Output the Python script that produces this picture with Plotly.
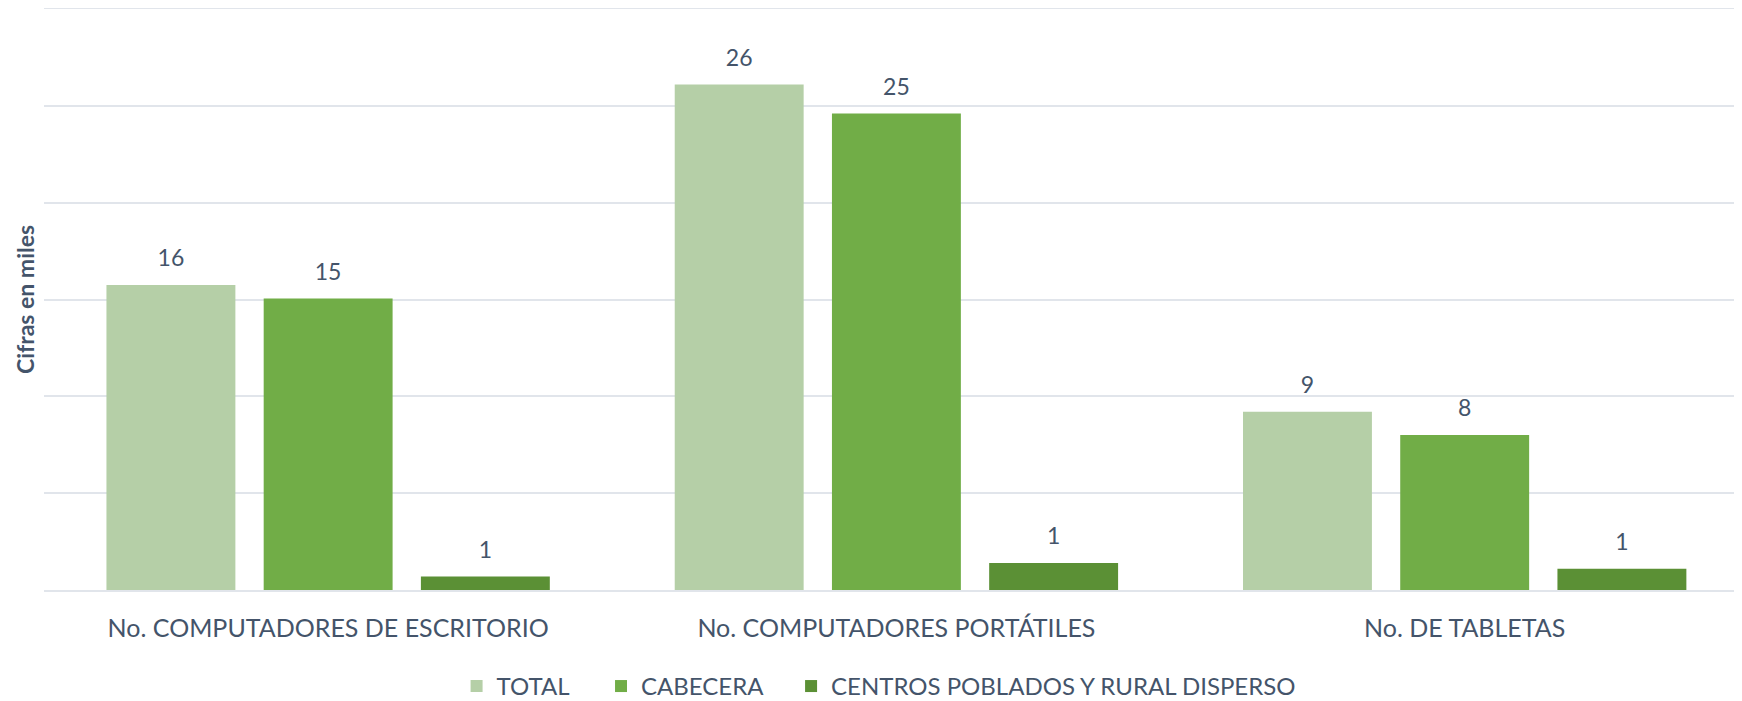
import plotly.graph_objects as go

# Cifras en miles
categorias = [
    "No. COMPUTADORES DE ESCRITORIO",
    "No. COMPUTADORES PORTÁTILES",
    "No. DE TABLETAS",
]
series = ["TOTAL", "CABECERA", "CENTROS POBLADOS Y RURAL DISPERSO"]
total = [15.75, 26.1, 9.2]
cabecera = [15.05, 24.6, 8.0]
rural = [0.7, 1.4, 1.1]
valores = [total, cabecera, rural]

COLORES = ["#B5CFA7", "#71AD47", "#5B9035"]
TEXTO = "#44546A"
GRID = "#E1E5EB"
FUENTE = "Lato, Open Sans, sans-serif"

# the page body adds an 8px margin, so the figure is 16px smaller than the window
W, H = 1734, 693
LEYENDAS = ["legend", "legend2", "legend3"]
LEYENDA_X = [0.2587, 0.342, 0.4516]

fig = go.Figure()

for nombre, vals, color, ley in zip(series, valores, COLORES, LEYENDAS):
    fig.add_trace(
        go.Bar(
            x=categorias,
            y=vals,
            name=nombre,
            marker_color=color,
            marker_line_width=0,
            hoverinfo="x+y+name",
            legend=ley,
        )
    )

# etiquetas de datos encima de cada barra
for nombre, vals in zip(series, valores):
    fig.add_trace(
        go.Scatter(
            x=categorias,
            y=vals,
            mode="markers+text",
            text=[f"{v:.0f}" for v in vals],
            textposition="top center",
            textfont=dict(color=TEXTO, size=23, family=FUENTE),
            marker=dict(size=19, opacity=0),
            showlegend=False,
            hoverinfo="skip",
            name=nombre,
        )
    )

leyendas = {
    ley: dict(
        orientation="h",
        xref="container",
        yref="container",
        x=lx,
        xanchor="left",
        y=0.021,
        yanchor="middle",
        bgcolor="rgba(0,0,0,0)",
        font=dict(size=24, color=TEXTO),
    )
    for ley, lx in zip(LEYENDAS, LEYENDA_X)
}

fig.update_layout(
    width=W,
    height=H,
    barmode="group",
    scattermode="group",
    bargap=0.17,
    bargroupgap=0.18,
    paper_bgcolor="white",
    plot_bgcolor="white",
    margin=dict(l=36, r=0, t=1, b=111),
    font=dict(family=FUENTE, color=TEXTO, size=24),
    **leyendas,
)
fig.update_xaxes(
    range=[-0.5, 2.488],
    automargin=False,
    showgrid=False,
    showline=True,
    mirror=True,
    linecolor=GRID,
    linewidth=1.5,
    ticks="",
    ticklabelstandoff=15,
    tickfont=dict(size=25, color=TEXTO),
)
fig.update_yaxes(
    range=[0, 30],
    dtick=5,
    automargin=False,
    showgrid=True,
    gridcolor=GRID,
    gridwidth=1.5,
    zeroline=False,
    showline=False,
    showticklabels=False,
    title=dict(
        text="<b>Cifras en miles</b>",
        font=dict(size=23, color=TEXTO),
        standoff=1,
    ),
)

fig.write_html("out.html")
